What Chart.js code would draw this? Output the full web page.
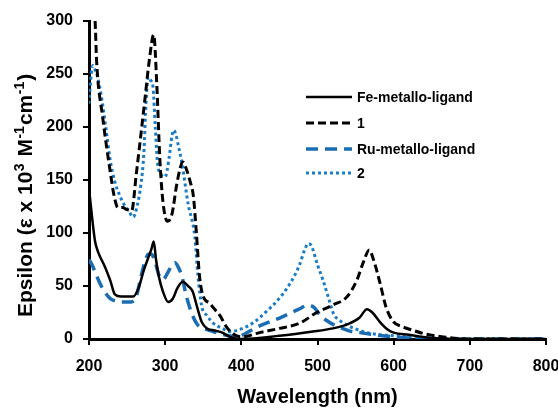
<!DOCTYPE html>
<html>
<head>
<meta charset="utf-8">
<script src="https://cdn.jsdelivr.net/npm/chart.js@4.4.1/dist/chart.umd.min.js"></script>
<style>
  html, body { margin: 0; padding: 0; background: #fff; }
  #wrap { width: 558px; height: 409px; }
</style>
</head>
<body>
<div id="wrap"><canvas id="uvChart" width="558" height="409"></canvas></div>
<script>
// wavelength (nm) and epsilon values
var feWl  = [200, 204, 208, 212, 221, 228, 234, 242, 250, 258, 265, 272, 278, 282, 285, 288, 292, 297, 304, 310, 316, 323, 330, 336, 342, 348, 355, 365, 375, 385, 400, 450, 494, 520, 540, 555, 565, 572, 582, 592, 600, 620, 650, 700, 800];
var feEps = [142, 115, 92, 82, 68, 55, 42, 40, 40, 40, 48, 65, 77, 85, 92, 75, 58, 45, 35, 38, 48, 54, 50, 45, 30, 16, 10, 8, 6, 2, 0, 3, 7, 10, 14, 20, 28, 25, 16, 9, 6, 4, 1, 0, 0];

var oneWl  = [200, 205, 208, 210, 218, 227, 233, 238, 244, 250, 256, 262, 268, 274, 279, 285, 289, 293, 297, 303, 309, 315, 320, 323, 328, 333, 337, 341, 345, 350, 358, 365, 372, 380, 389, 400, 424, 450, 477, 499, 520, 539, 552, 560, 568, 573, 582, 590, 600, 610, 622, 640, 665, 700, 800];
var oneEps = [345, 318, 300, 262, 209, 162, 135, 124, 124, 122, 121, 155, 192, 230, 262, 287, 240, 170, 130, 111, 118, 145, 162, 167, 160, 148, 135, 100, 60, 40, 34, 28, 22, 12, 5, 2, 6, 10, 15, 25, 32, 40, 56, 72, 84, 76, 53, 30, 16, 12, 9, 5, 2, 0, 0];

var ruWl  = [200, 204, 207, 214, 221, 228, 234, 245, 255, 262, 268, 273, 278, 282, 287, 292, 297, 303, 309, 313, 317, 322, 328, 335, 341, 346, 355, 372, 385, 395, 405, 420, 451, 475, 488, 495, 503, 515, 529, 545, 556, 575, 600, 650, 800];
var ruEps = [75, 70, 65, 53, 44, 38, 36, 35, 35, 40, 58, 72, 80, 80, 72, 60, 56, 62, 70, 72, 68, 59, 40, 24, 15, 11, 9, 5, 3, 2, 5, 11, 20, 28, 32, 30, 23, 16, 11, 7, 6, 4, 2, 0, 0];

var twoWl  = [200, 203, 205, 208, 211, 216, 222, 228, 234, 240, 246, 252, 258, 263, 268, 272, 275, 278, 281, 284, 287, 290, 295, 300, 305, 309, 311, 314, 318, 322, 330, 339, 343, 348, 355, 363, 375, 385, 398, 415, 433, 447, 460, 470, 477, 483, 488, 492, 500, 507, 514, 521, 530, 539, 565, 600, 650, 700, 800];
var twoEps = [222, 250, 258, 254, 248, 230, 200, 168, 148, 136, 127, 121, 115, 125, 145, 175, 225, 247, 244, 238, 200, 166, 155, 153, 170, 192, 197, 193, 180, 166, 128, 96, 60, 31, 22, 15, 10, 7, 9, 15, 26, 36, 48, 60, 71, 84, 90, 88, 70, 56, 40, 24, 17, 13, 6, 3, 1, 0, 0];

var seriesNames = ["Fe-metallo-ligand", "1", "Ru-metallo-ligand", "2"];
var xTicks = [200, 300, 400, 500, 600, 700, 800];
var yTicks = [0, 50, 100, 150, 200, 250, 300];

function toPoints(wl, eps) {
  return wl.map(function (w, i) { return { x: w, y: eps[i] }; });
}

var styles = [
  { color: "#000000", width: 2.5, dash: [] },
  { color: "#000000", width: 3, dash: [8, 4] },
  { color: "#1a6db3", width: 3.5, dash: [12, 7] },
  { color: "#1a7cc4", width: 3, dash: [3, 3] }
];
var allData = [toPoints(feWl, feEps), toPoints(oneWl, oneEps), toPoints(ruWl, ruEps), toPoints(twoWl, twoEps)];

var FONT = "'Liberation Sans', Arial, sans-serif";

// y title with real superscripts, drawn rotated
var yTitleParts = [
  ["Epsilon (\u03b5 x 10", false],
  ["3", true],
  [" M", false],
  ["-1", true],
  ["cm", false],
  ["-1", true],
  [")", false]
];

var extras = {
  id: "extras",
  afterDraw: function (chart) {
    var ctx = chart.ctx;
    ctx.save();
    ctx.fillStyle = "#000";

    // legend
    var rows = [97, 123, 149, 173];
    ctx.font = "bold 14px " + FONT;
    ctx.textBaseline = "middle";
    for (var i = 0; i < seriesNames.length; i++) {
      var s = styles[i];
      ctx.strokeStyle = s.color;
      ctx.lineWidth = s.width;
      ctx.setLineDash(s.dash);
      ctx.beginPath();
      ctx.moveTo(306, rows[i]);
      ctx.lineTo(352, rows[i]);
      ctx.stroke();
      ctx.setLineDash([]);
      ctx.fillText(seriesNames[i], 357, rows[i] + 1);
    }

    // y axis title
    ctx.translate(32, 317);
    ctx.rotate(-Math.PI / 2);
    ctx.textBaseline = "alphabetic";
    ctx.textAlign = "left";
    var x = 0;
    yTitleParts.forEach(function (p) {
      ctx.font = p[1] ? "bold 14px " + FONT : "bold 21px " + FONT;
      ctx.fillText(p[0], x, p[1] ? -8 : 0);
      x += ctx.measureText(p[0]).width + (p[1] ? 1 : 0.5);
    });
    ctx.restore();
  }
};

var datasets = seriesNames.map(function (name, i) {
  return {
    label: name,
    data: allData[i],
    borderColor: styles[i].color,
    borderWidth: styles[i].width,
    borderDash: styles[i].dash,
    pointRadius: 0,
    fill: false,
    cubicInterpolationMode: "monotone"
  };
});

var ctx = document.getElementById("uvChart").getContext("2d");
var uvChart = new Chart(ctx, {
  type: "line",
  data: { datasets: datasets },
  options: {
    responsive: false,
    animation: false,
    devicePixelRatio: 1,
    layout: { padding: { top: 21, right: 12, left: 0, bottom: 0 } },
    plugins: {
      legend: { display: false },
      tooltip: { enabled: false }
    },
    scales: {
      x: {
        type: "linear",
        min: 200,
        max: 800,
        afterBuildTicks: function (scale) {
          scale.ticks = xTicks.map(function (v) { return { value: v }; });
        },
        afterFit: function (scale) {
          scale.height = 70;
          scale.paddingLeft = 0;
          scale.paddingRight = 0;
        },
        border: { display: true, color: "#000", width: 3 },
        grid: { drawOnChartArea: false, drawTicks: true, tickLength: 6, color: "#000", lineWidth: 2 },
        ticks: { color: "#000", font: { family: FONT, size: 16, weight: "bold" }, padding: 12, maxRotation: 0 },
        title: {
          display: true,
          text: "Wavelength (nm)",
          color: "#000",
          font: { family: FONT, size: 20, weight: "bold" },
          padding: { top: 0, bottom: 0 }
        }
      },
      y: {
        type: "linear",
        min: 0,
        max: 300,
        afterBuildTicks: function (scale) {
          scale.ticks = yTicks.map(function (v) { return { value: v }; });
        },
        afterFit: function (scale) {
          scale.width = 89;
          scale.paddingTop = 0;
          scale.paddingBottom = 0;
        },
        border: { display: true, color: "#000", width: 3 },
        grid: { drawOnChartArea: false, drawTicks: true, tickLength: 6, color: "#000", lineWidth: 2 },
        ticks: { color: "#000", font: { family: FONT, size: 16, weight: "bold" }, padding: 10 }
      }
    }
  },
  plugins: [extras]
});
</script>
</body>
</html>
